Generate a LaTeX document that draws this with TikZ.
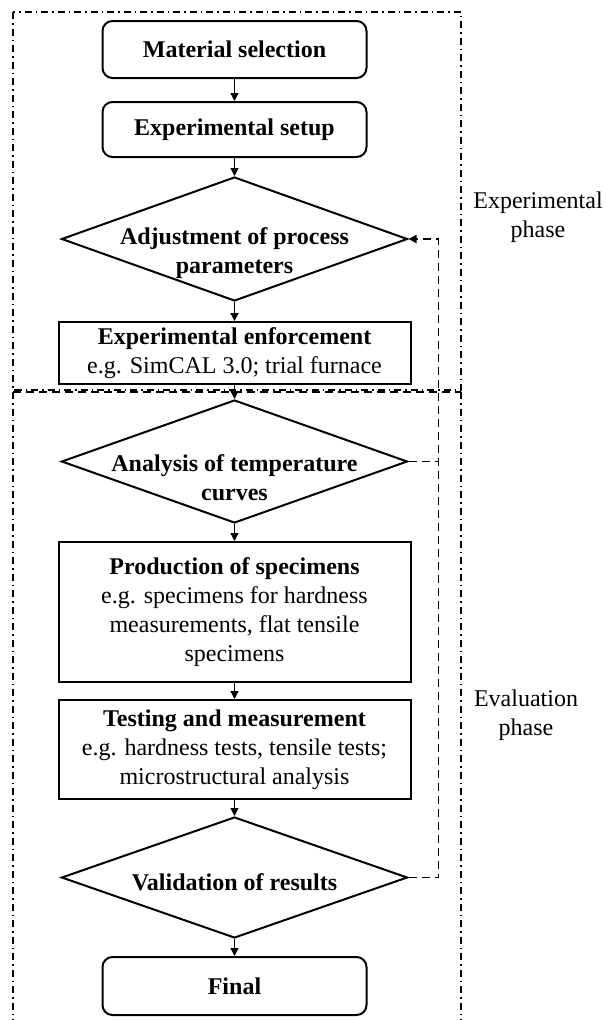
\documentclass[tikz,border=0pt]{standalone}
\usepackage{fontspec}
\setmainfont{Liberation Serif}
\usetikzlibrary{shapes.geometric,arrows.meta}
\begin{document}
\begin{tikzpicture}[x=1pt,y=-1pt,
  txt/.style={font=\fontsize{24}{29}\selectfont, align=center, inner sep=0pt},
  btxt/.style={font=\fontsize{24}{29}\selectfont\bfseries, align=center, inner sep=0pt},
  proc/.style={draw, line width=2pt, txt, minimum width=352pt},
  term/.style={draw, line width=2pt, rounded corners=10pt, btxt, minimum width=264pt},
  decision/.style={draw, diamond, line width=2pt, minimum width=346pt, inner sep=0pt},
  flow/.style={line width=1.3pt, -{Triangle[length=8pt,width=8pt]}},
  loop/.style={line width=1.8pt, dash pattern=on 8pt off 5pt},
  phase/.style={line width=1.8pt, dash pattern=on 7pt off 4pt on 1.5pt off 4pt},
]
\path[use as bounding box] (0,0) rectangle (606,1020);
\clip (0,0) rectangle (606,1020);

% phase frames
\draw[phase] (13,12) rectangle (461,390);
\draw[phase] (13,392) -- (13,1040);
\draw[phase] (461,392) -- (461,1040);
\draw[loop] (13,392) -- (461,392);

% nodes
\node[term, minimum height=57pt] (ms) at (234.5,49.5) {Material selection};
\node[term, minimum height=55pt] (es) at (234.5,129.5) {Experimental setup};
\node[decision, minimum height=124pt] (d1) at (234.5,239) {};
\node[btxt] (d1t) at (234.5,253) {Adjustment of process\\parameters};
\node[proc, minimum height=62pt] (ee) at (234.5,353) {\textbf{Experimental enforcement}\\e.g. SimCAL 3.0; trial furnace};
\node[decision, minimum height=123pt] (d2) at (234.5,461.5) {};
\node[btxt] (d2t) at (234.5,478) {Analysis of temperature\\curves};
\node[proc, minimum height=140pt] (ps) at (234.5,612) {\textbf{Production of specimens}\\e.g. specimens for hardness\\measurements, flat tensile\\specimens};
\node[proc, minimum height=99pt] (tm) at (234.5,749.5) {\textbf{Testing and measurement}\\e.g. hardness tests, tensile tests;\\microstructural analysis};
\node[decision, minimum height=121pt] (d3) at (234.5,877.5) {};
\node[btxt] (d3t) at (234.5,882) {Validation of results};
\node[term, minimum height=58pt] (fin) at (234.5,986) {Final};

% phase labels
\node[txt] (lexp) at (538,217.5) {Experimental\\phase};
\node[txt] (leval) at (526,715) {Evaluation\\phase};

% flow
\draw[flow] (ms) -- (es);
\draw[flow] (es) -- (d1);
\draw[flow] (d1) -- (ee);
\draw[flow] (ee) -- (d2);
\draw[flow] (d2) -- (ps);
\draw[flow] (ps) -- (tm);
\draw[flow] (tm) -- (d3);
\draw[flow] (d3) -- (fin);

% feedback loop
\draw[loop, -{Triangle[length=8pt,width=8pt]}] (d3.east) -- ++(30,0) coordinate (c3) |- (d1.east);
\draw[loop] (d2.east) -- (d2.east -| c3);
\end{tikzpicture}
\end{document}
